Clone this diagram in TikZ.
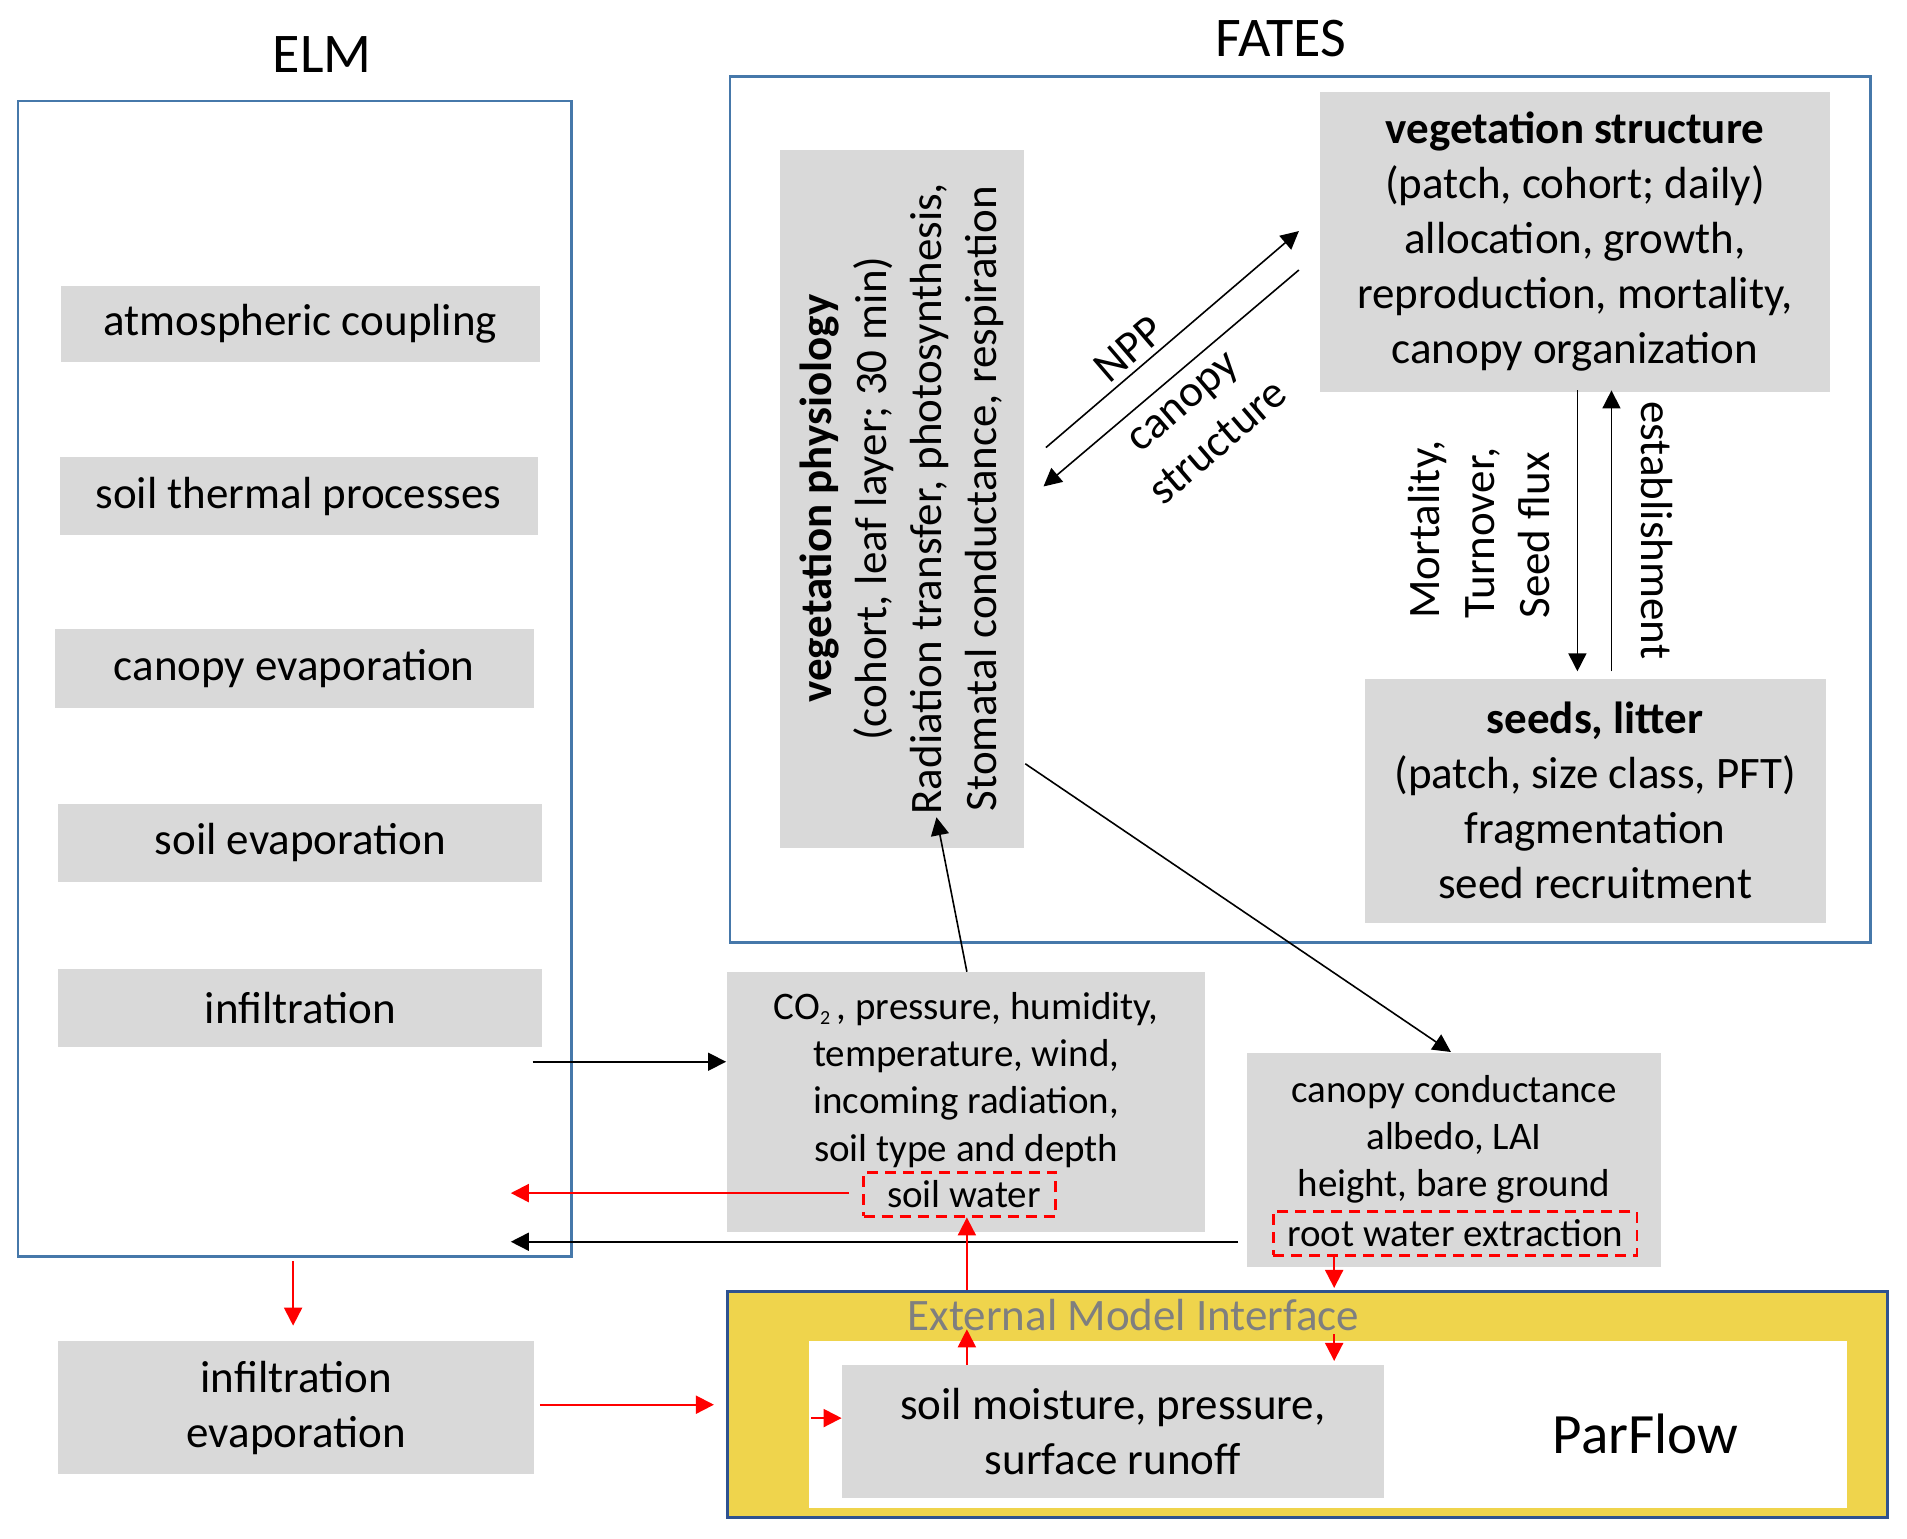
\documentclass[tikz,border=0pt]{standalone}
\usepackage{fontspec}
\setmainfont{Carlito}
\usetikzlibrary{arrows.meta}
\definecolor{box_gray}{RGB}{217,217,217}
\definecolor{frame_blue}{RGB}{70,120,170}
\definecolor{emi_blue}{RGB}{47,82,143}
\definecolor{emi_yellow}{RGB}{239,212,76}
\definecolor{emi_grey}{RGB}{127,127,127}
\newcommand{\txtbig}{\fontsize{22.5pt}{27.5pt}\selectfont}
\newcommand{\txtmid}{\fontsize{19.5pt}{23.6pt}\selectfont}
\newcommand{\txttitle}{\fontsize{28pt}{32pt}\selectfont}
\newcommand{\subtwo}{\raisebox{-2.5pt}{\fontsize{10pt}{10pt}\selectfont 2}}
\tikzset{sz/.style 2 args={minimum width=#1*0.6081pt,minimum height=#2*0.6081pt}}
\tikzstyle{gbox}=[rectangle,fill=box_gray,inner sep=0pt,align=center,font=\txtbig]
\tikzstyle{modbox}=[rectangle,draw=frame_blue,line width=1.2pt,inner sep=0pt]
\tikzstyle{dbox}=[rectangle,draw=red,line width=1.4pt,dash pattern=on 5.5pt off 3.5pt,
  inner sep=0pt]
\tikzstyle{lbl}=[inner sep=0pt,align=center,font=\txtbig]
\tikzstyle{blk}=[-{Triangle[length=9pt,width=9pt]},line width=0.8pt]
\tikzstyle{rd}=[-{Triangle[length=9pt,width=9pt]},line width=1pt,draw=red]
\tikzstyle{none}=[]

\begin{document}
\begin{tikzpicture}[x=0.6081pt,y=-0.6081pt]
            \useasboundingbox (0,0) rectangle (1568,1265);
            % titles and model frames
            \node [style=none,font=\txttitle] (elmt) at (265,45) {ELM};
            \node [style=none,font=\txttitle] (fatest) at (1053,32) {FATES};
            \node [style=modbox,sz={455}{950}] (elm) at (242.5,558) {};
            \node [style=modbox,sz={938}{712}] (fates) at (1069,419) {};
            % ELM processes
            \node [style=gbox,sz={394}{63}] (atm) at (247,266.5) {atmospheric coupling};
            \node [style=gbox,sz={393}{64}] (therm) at (245.5,408) {soil thermal processes};
            \node [style=gbox,sz={394}{65}] (canevap) at (242,549.5) {canopy evaporation};
            \node [style=gbox,sz={398}{64}] (soilevap) at (247,693) {soil evaporation};
            \node [style=gbox,sz={398}{64}] (infil) at (247,829) {infiltration};
            \node [style=gbox,sz={391}{109}] (infevap) at (243.5,1157.5) {infiltration\\evaporation};
            % FATES
            \node [style=gbox,sz={574}{201},rotate=90] (vphys) at (741.5,410)
              {\textbf{vegetation physiology}\\(cohort, leaf layer; 30 min)\\
               Radiation transfer, photosynthesis,\\Stomatal conductance, respiration};
            \node [style=gbox,sz={420}{246}] (vstruct) at (1295,199)
              {\textbf{vegetation structure}\\(patch, cohort; daily)\\allocation, growth,\\
               reproduction, mortality,\\canopy organization};
            \node [style=gbox,sz={379}{201}] (seeds) at (1311.5,658.5)
              {\textbf{seeds, litter}\\(patch, size class, PFT)\\fragmentation\\seed recruitment};
            % exchanged variables
            \node [style=gbox,sz={393}{214}] (forcing) at (794.5,906) {};
            \node [style=lbl,font=\txtmid] (forcingt) at (794.5,888)
              {CO\subtwo\,, pressure, humidity,\\temperature, wind,\\
               incoming radiation,\\soil type and depth};
            \node [style=dbox,sz={158}{36},font=\txtmid] (soilw) at (789,982) {\ soil water};
            \node [style=gbox,sz={341}{176}] (canout) at (1195.5,954) {};
            \node [style=lbl,font=\txtmid] (canoutt) at (1195.5,937)
              {canopy conductance\\albedo, LAI\\height, bare ground};
            \node [style=dbox,sz={299}{36},font=\txtmid] (rootw) at (1196.5,1014) {root water extraction};
            % external model interface
            \node [style=none,rectangle,fill=emi_yellow,draw=emi_blue,line width=1.6pt,
              sz={954}{186}] (emi) at (1075,1155) {};
            \node [style=none,rectangle,fill=white,sz={854}{137}] (pfin) at (1092,1171.5) {};
            \node [style=lbl,text=emi_grey] (emit) at (932,1081) {External Model Interface};
            \node [style=gbox,sz={446}{110}] (soilm) at (915,1177)
              {soil moisture, pressure,\\surface runoff};
            \node [style=none,font=\fontsize{28.5pt}{32pt}\selectfont] (pf) at (1353,1179) {ParFlow};
            % arrow ends
            \coordinate (npp_s) at (860,368);
            \coordinate (npp_e) at (1068,190);
            \coordinate (cs_s) at (1068,222);
            \coordinate (cs_e) at (858,400);
            \coordinate (mort_s) at (1297,321);
            \coordinate (mort_e) at (1297,552);
            \coordinate (est_s) at (1325,552);
            \coordinate (est_e) at (1325,321);
            \coordinate (vp_o) at (843,628);
            \coordinate (co_i) at (1193,865);
            \coordinate (fo_o) at (795,799);
            \coordinate (vp_i) at (770,672);
            \coordinate (el_o) at (438,873);
            \coordinate (fo_i) at (597,873);
            \coordinate (sw_o) at (698,981);
            \coordinate (el_i1) at (420,981);
            \coordinate (co_o) at (1018,1021);
            \coordinate (el_i2) at (420,1021);
            \coordinate (el_o2) at (241,1037);
            \coordinate (ie_i) at (241,1090);
            \coordinate (ie_o) at (444,1155);
            \coordinate (emi_i) at (587,1155);
            \coordinate (pf_o) at (667,1166);
            \coordinate (sm_i) at (692,1166);
            \coordinate (emi_o) at (795,1061);
            \coordinate (sw_i) at (795,1001);
            \coordinate (sm_o) at (795,1122);
            \coordinate (emi_u) at (795,1093);
            \coordinate (rw_o) at (1097,1033);
            \coordinate (emi_t) at (1097,1059);
            \coordinate (emi_d) at (1097,1097);
            \coordinate (sm_t) at (1097,1119);
            % connectors
            \draw [style=blk] (npp_s) to (npp_e);
            \draw [style=blk] (cs_s) to (cs_e);
            \draw [style=blk] (mort_s) to (mort_e);
            \draw [style=blk] (est_s) to (est_e);
            \draw [style=blk] (vp_o) to (co_i);
            \draw [style=blk] (fo_o) to (vp_i);
            \draw [style=blk] (el_o) to (fo_i);
            \draw [style=blk] (co_o) to (el_i2);
            \draw [style=rd] (sw_o) to (el_i1);
            \draw [style=rd] (el_o2) to (ie_i);
            \draw [style=rd] (ie_o) to (emi_i);
            \draw [style=rd] (pf_o) to (sm_i);
            \draw [style=rd] (emi_o) to (sw_i);
            \draw [style=rd] (sm_o) to (emi_u);
            \draw [style=rd] (rw_o) to (emi_t);
            \draw [style=rd] (emi_d) to (sm_t);
            % arrow labels
            \node [style=lbl,rotate=40.6] (npp) at (928,287) {NPP};
            \node [style=lbl,rotate=40.6] (cstr) at (988,348) {canopy\\structure};
            \node [style=lbl,rotate=90,align=left,anchor=west] (mtl) at (1216,509)
              {Mortality,\\Turnover,\\Seed flux};
            \node [style=lbl,rotate=-90] (estl) at (1362,436) {establishment};
\end{tikzpicture}
\end{document}
